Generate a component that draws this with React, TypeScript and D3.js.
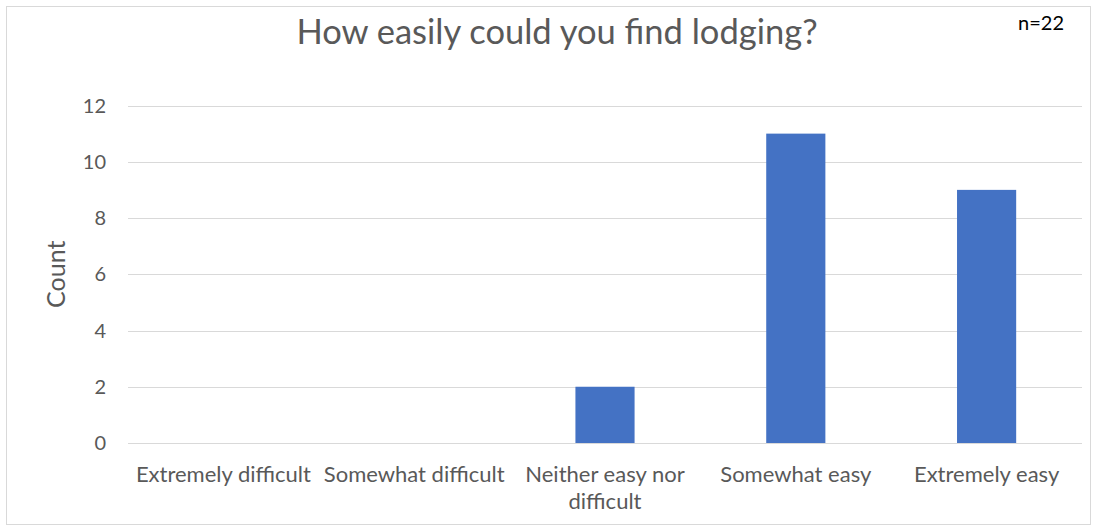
import React, { useEffect, useRef } from "react";
import * as d3 from "d3";

const categories = [
  "Extremely difficult",
  "Somewhat difficult",
  "Neither easy nor difficult",
  "Somewhat easy",
  "Extremely easy",
];
const counts = [0, 0, 2, 11, 9];
const yTicks = [0, 2, 4, 6, 8, 10, 12];
const titleText = "How easily could you find lodging?";
const noteText = "n=22";
const yAxisTitle = "Count";

const W = 1098;
const H = 531;
const FONT = "Lato, 'Open Sans', sans-serif";

export default function App() {
  const ref = useRef<SVGSVGElement | null>(null);

  useEffect(() => {
    const svg = d3.select(ref.current);
    svg.selectAll("*").remove();

    const left = 128, right = 1082, top = 105.5, bottom = 443;
    const x = d3.scaleBand<string>().domain(categories).range([left, right]).paddingInner(0.69).paddingOuter(0.345);
    const xb = d3.scaleBand<string>().domain(categories).range([left, right]);
    const y = d3.scaleLinear().domain([0, 12]).range([bottom, top]);
    const LS = 22;

    svg.append("rect")
      .attr("x", 6.5).attr("y", 6.5).attr("width", 1084).attr("height", 518)
      .attr("fill", "#fff").attr("stroke", "#d9d9d9").attr("stroke-width", 1);

    svg.append("g").selectAll("line").data(yTicks).join("line")
      .attr("x1", left).attr("x2", right)
      .attr("y1", d => Math.round(y(d)) + 0.5).attr("y2", d => Math.round(y(d)) + 0.5)
      .attr("stroke", "#d9d9d9").attr("stroke-width", 1);

    svg.append("g").selectAll("text").data(yTicks).join("text")
      .attr("x", 106).attr("y", d => y(d))
      .attr("dy", "0.35em").attr("text-anchor", "end")
      .attr("font-family", FONT).attr("font-size", 20).attr("fill", "#595959")
      .text(d => String(d));

    svg.append("g").selectAll("rect").data(categories).join("rect")
      .attr("x", d => x(d)!)
      .attr("width", x.bandwidth())
      .attr("y", (d, i) => y(counts[i]))
      .attr("height", (d, i) => y(0) - y(counts[i]))
      .attr("fill", "#4472C4");

    const xl = svg.append("g");
    categories.forEach(c => {
      const cx = xb(c)! + xb.bandwidth() / 2;
      const t = xl.append("text")
        .attr("x", cx).attr("y", 482)
        .attr("text-anchor", "middle")
        .attr("font-family", FONT).attr("font-size", LS).attr("fill", "#595959")
        .text(c);
      const node = t.node() as SVGTextElement;
      if (node.getComputedTextLength() > xb.bandwidth() + 2) {
        t.text(null);
        const words = c.split(" ");
        const lines: string[] = [];
        let cur: string[] = [];
        const probe = xl.append("text").attr("font-family", FONT).attr("font-size", LS);
        words.forEach(w => {
          const tryLine = [...cur, w].join(" ");
          probe.text(tryLine);
          if ((probe.node() as SVGTextElement).getComputedTextLength() > xb.bandwidth() + 2 && cur.length) {
            lines.push(cur.join(" "));
            cur = [w];
          } else cur.push(w);
        });
        if (cur.length) lines.push(cur.join(" "));
        probe.remove();
        lines.forEach((ln, i) => {
          t.append("tspan").attr("x", cx).attr("y", 482 + i * 27).text(ln);
        });
      }
    });

    svg.append("text")
      .attr("transform", `translate(65,${(top + bottom) / 2}) rotate(-90)`)
      .attr("text-anchor", "middle")
      .attr("font-family", FONT).attr("font-size", 25).attr("fill", "#595959")
      .text(yAxisTitle);

    svg.append("text")
      .attr("x", 557).attr("y", 44)
      .attr("text-anchor", "middle")
      .attr("font-family", FONT).attr("font-size", 34.5).attr("fill", "#595959")
      .text(titleText);

    svg.append("text")
      .attr("x", 1041).attr("y", 30)
      .attr("text-anchor", "middle")
      .attr("font-family", FONT).attr("font-size", 20).attr("fill", "#000")
      .text(noteText);
  }, []);

  return (
    <svg ref={ref} width={W} height={H}
      style={{ position: "absolute", left: 0, top: 0, background: "#fff" }} />
  );
}
